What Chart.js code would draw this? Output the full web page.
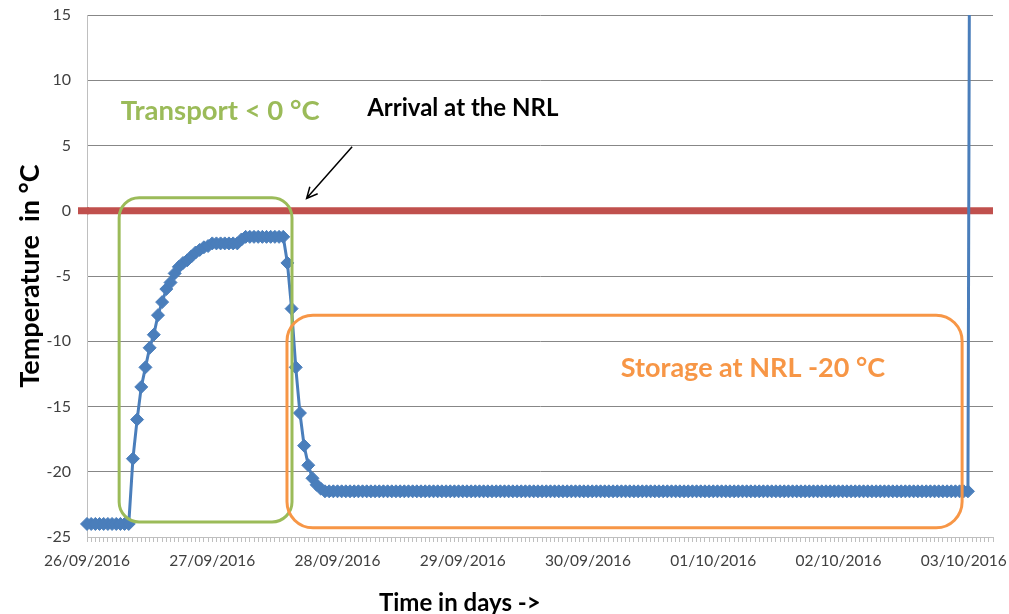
<!DOCTYPE html>
<html>
<head>
<meta charset="utf-8">
<script src="https://cdn.jsdelivr.net/npm/chart.js@4.4.1/dist/chart.umd.min.js"></script>
<style>
  html, body { margin: 0; padding: 0; background: #ffffff; }
  canvas { display: block; }
</style>
</head>
<body>
<canvas id="grafico" width="1009" height="614"></canvas>
<script>
// one date label every 30 readings
const dateLabels = ['26/09/2016', '27/09/2016', '28/09/2016', '29/09/2016',
                    '30/09/2016', '01/10/2016', '02/10/2016', '03/10/2016'];
const readingsPerDay = 30;

// logger readings (°C)
const temperatures = [
  -24, -24, -24, -24, -24, -24, -24, -24, -24, -24, -24,
  -19, -16, -13.5, -12, -10.5, -9.5, -8, -7, -6, -5.5,
  -4.8, -4.3, -4, -3.8, -3.5, -3.2, -3, -2.8, -2.7,
  -2.5, -2.5, -2.5, -2.5, -2.5, -2.5, -2.5, -2.2,
  -2, -2, -2, -2, -2, -2, -2, -2, -2, -2,
  -4, -7.5, -12, -15.5, -18, -19.5, -20.5, -21, -21.3,
  -21.5, -21.5, -21.5, -21.5, -21.5, -21.5, -21.5, -21.5, -21.5, -21.5,
  -21.5, -21.5, -21.5, -21.5, -21.5, -21.5, -21.5, -21.5, -21.5, -21.5,
  -21.5, -21.5, -21.5, -21.5, -21.5, -21.5, -21.5, -21.5, -21.5, -21.5,
  -21.5, -21.5, -21.5, -21.5, -21.5, -21.5, -21.5, -21.5, -21.5, -21.5,
  -21.5, -21.5, -21.5, -21.5, -21.5, -21.5, -21.5, -21.5, -21.5, -21.5,
  -21.5, -21.5, -21.5, -21.5, -21.5, -21.5, -21.5, -21.5, -21.5, -21.5,
  -21.5, -21.5, -21.5, -21.5, -21.5, -21.5, -21.5, -21.5, -21.5, -21.5,
  -21.5, -21.5, -21.5, -21.5, -21.5, -21.5, -21.5, -21.5, -21.5, -21.5,
  -21.5, -21.5, -21.5, -21.5, -21.5, -21.5, -21.5, -21.5, -21.5, -21.5,
  -21.5, -21.5, -21.5, -21.5, -21.5, -21.5, -21.5, -21.5, -21.5, -21.5,
  -21.5, -21.5, -21.5, -21.5, -21.5, -21.5, -21.5, -21.5, -21.5, -21.5,
  -21.5, -21.5, -21.5, -21.5, -21.5, -21.5, -21.5, -21.5, -21.5, -21.5,
  -21.5, -21.5, -21.5, -21.5, -21.5, -21.5, -21.5, -21.5, -21.5, -21.5,
  -21.5, -21.5, -21.5, -21.5, -21.5, -21.5, -21.5, -21.5, -21.5, -21.5,
  -21.5, -21.5, -21.5, -21.5, -21.5, -21.5, -21.5, -21.5, -21.5, -21.5,
  -21.5, -21.5, -21.5, -21.5, -21.5,
  90, null, null, null, null, null
];

const labels = temperatures.map((t, i) => i % readingsPerDay === 0 ? dateLabels[i / readingsPerDay] : '');
const zeroLine = temperatures.map(() => 0);

// annotation shapes, in axis units (x = reading index, y = °C)
const boxes = [
  { x1: 7.7, x2: 49.1, y1: 1.0, y2: -23.85, color: '#9bbb59', r: 20 },
  { x1: 47.9, x2: 209.6, y1: -8.0, y2: -24.3, color: '#f79646', r: 26 }
];
const notes = [
  { text: 'Transport < 0 °C', x: 31.9, y: 7.6, color: '#9bbb59', size: 27.5 },
  { text: 'Arrival at the NRL', x: 90, y: 7.85, color: '#000000', size: 24 },
  { text: 'Storage at NRL -20 °C', x: 159.5, y: -12.1, color: '#f79646', size: 27 }
];
const arrow = { x1: 63.5, y1: 4.9, x2: 52.6, y2: 0.95 };
const xTitle = { text: 'Time in days ->', x: 89.3 };

function roundBox(ctx, x, y, w, h, r) {
  ctx.beginPath();
  ctx.moveTo(x + r, y);
  ctx.lineTo(x + w - r, y);
  ctx.arcTo(x + w, y, x + w, y + r, r);
  ctx.lineTo(x + w, y + h - r);
  ctx.arcTo(x + w, y + h, x + w - r, y + h, r);
  ctx.lineTo(x + r, y + h);
  ctx.arcTo(x, y + h, x, y + h - r, r);
  ctx.lineTo(x, y + r);
  ctx.arcTo(x, y, x + r, y, r);
  ctx.closePath();
}

const annotations = {
  id: 'annotations',
  afterDatasetsDraw(chart) {
    const ctx = chart.ctx;
    const xs = chart.scales.x, ys = chart.scales.y;
    const area = chart.chartArea;
    ctx.save();
    // red 0 °C line sticks out a little left of the axis
    const y0 = ys.getPixelForValue(0);
    ctx.strokeStyle = '#c0504d';
    ctx.lineWidth = 7;
    ctx.beginPath();
    ctx.moveTo(area.left - 9, y0);
    ctx.lineTo(area.left + 2, y0);
    ctx.stroke();

    boxes.forEach(b => {
      const l = xs.getPixelForValue(b.x1), r = xs.getPixelForValue(b.x2);
      const t = ys.getPixelForValue(b.y1), bt = ys.getPixelForValue(b.y2);
      ctx.strokeStyle = b.color;
      ctx.lineWidth = 3;
      roundBox(ctx, l, t, r - l, bt - t, b.r);
      ctx.stroke();
    });
    notes.forEach(n => {
      ctx.font = 'bold ' + n.size + 'px Lato';
      ctx.fillStyle = n.color;
      ctx.textAlign = 'center';
      ctx.textBaseline = 'middle';
      ctx.fillText(n.text, xs.getPixelForValue(n.x), ys.getPixelForValue(n.y));
    });
    const ax1 = xs.getPixelForValue(arrow.x1), ay1 = ys.getPixelForValue(arrow.y1);
    const ax2 = xs.getPixelForValue(arrow.x2), ay2 = ys.getPixelForValue(arrow.y2);
    const ang = Math.atan2(ay2 - ay1, ax2 - ax1);
    ctx.strokeStyle = '#000000';
    ctx.lineWidth = 1.5;
    ctx.beginPath();
    ctx.moveTo(ax1, ay1);
    ctx.lineTo(ax2, ay2);
    ctx.moveTo(ax2 - 12 * Math.cos(ang - 0.45), ay2 - 12 * Math.sin(ang - 0.45));
    ctx.lineTo(ax2, ay2);
    ctx.lineTo(ax2 - 12 * Math.cos(ang + 0.45), ay2 - 12 * Math.sin(ang + 0.45));
    ctx.stroke();

    // x axis title, placed left of centre as in the original
    ctx.font = 'bold 24px Lato';
    ctx.fillStyle = '#000000';
    ctx.textAlign = 'center';
    ctx.textBaseline = 'middle';
    ctx.fillText(xTitle.text, xs.getPixelForValue(xTitle.x), chart.height - 11);
    ctx.restore();
  }
};

const ctx = document.getElementById('grafico').getContext('2d');

new Chart(ctx, {
  type: 'line',
  data: {
    labels: labels,
    datasets: [{
      label: 'Temperature',
      data: temperatures,
      borderColor: '#4a7ebb',
      backgroundColor: '#4a7ebb',
      borderWidth: 3,
      pointStyle: 'rectRot',
      pointRadius: 6.5,
      pointBorderWidth: 1,
      pointBorderColor: '#4a7ebb',
      pointBackgroundColor: '#4a7ebb',
      tension: 0,
      order: 1
    }, {
      label: '0 °C',
      data: zeroLine,
      borderColor: '#c0504d',
      borderWidth: 7,
      pointRadius: 0,
      order: 2
    }]
  },
  options: {
    responsive: false,
    animation: false,
    devicePixelRatio: 1,
    layout: { padding: { top: 15, right: 16, left: 0, bottom: 0 } },
    plugins: {
      legend: { display: false },
      tooltip: { enabled: false }
    },
    scales: {
      x: {
        type: 'category',
        offset: false,
        afterFit: s => { s.height = 77; },
        grid: { display: true, drawOnChartArea: false, drawTicks: true, tickLength: 5, color: '#bfbfbf' },
        border: { display: true, color: '#bfbfbf' },
        ticks: {
          autoSkip: false,
          maxRotation: 0,
          minRotation: 0,
          padding: 10,
          color: '#404040',
          font: { family: 'Lato', size: 15.5 }
        }
      },
      y: {
        min: -25,
        max: 15,
        afterFit: s => { s.width = 87; },
        grid: { color: '#878787', drawTicks: true, tickLength: 16, tickColor: 'rgba(0,0,0,0)' },
        border: { display: true, color: '#bfbfbf' },
        ticks: {
          stepSize: 5,
          padding: 0,
          color: '#404040',
          font: { family: 'Lato', size: 16 }
        },
        title: {
          display: true,
          text: 'Temperature  in °C',
          color: '#000000',
          font: { family: 'Lato', size: 27, weight: 'bold' },
          padding: { top: 14, bottom: 0 }
        }
      }
    }
  },
  plugins: [annotations]
});
</script>
</body>
</html>
